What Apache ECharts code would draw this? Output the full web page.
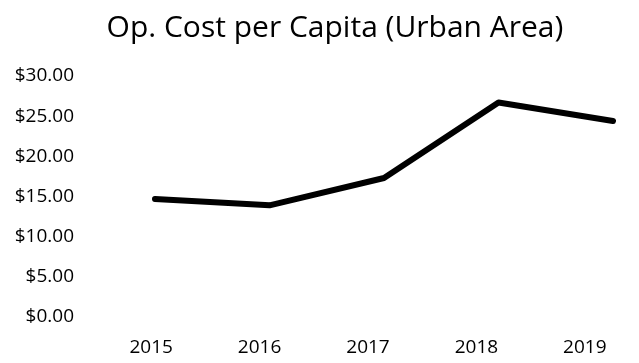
<!DOCTYPE html>
<html>
<head>
<meta charset="utf-8">
<script src="https://cdn.jsdelivr.net/npm/echarts@6/dist/echarts.min.js"></script>
<style>
  html, body { margin: 0; padding: 0; background: #fff; }
  #chart { width: 639px; height: 363px; }
</style>
</head>
<body>
<div id="chart"></div>
<script>
// Operating cost per capita, urban area, by year
const years = ['2015', '2016', '2017', '2018', '2019'];
const costPerCapita = [14.7, 13.9, 17.3, 26.7, 24.4];
const titleText = 'Op. Cost per Capita (Urban Area)';

const FONT = '"Open Sans", "Liberation Sans", sans-serif';

const chart = echarts.init(document.getElementById('chart'), null, { renderer: 'canvas' });

chart.setOption({
  animation: false,
  backgroundColor: '#ffffff',
  title: {
    text: titleText,
    left: 330,
    top: 8,
    textAlign: 'center',
    textStyle: { fontFamily: FONT, fontSize: 30, fontWeight: 'normal', color: '#000' }
  },
  grid: [
    // plot area for the line
    { left: 155, right: 26, top: 76, bottom: 46 },
    // strip carrying the year labels
    { left: 97, right: -14, top: 76, bottom: 46 }
  ],
  xAxis: [
    {
      gridIndex: 0,
      type: 'category',
      data: years,
      boundaryGap: false,
      axisLine: { show: false },
      axisTick: { show: false },
      axisLabel: { show: false },
      splitLine: { show: false }
    },
    {
      gridIndex: 1,
      type: 'category',
      data: years,
      boundaryGap: true,
      axisLine: { show: false },
      axisTick: { show: false },
      splitLine: { show: false },
      axisLabel: { margin: 21, fontFamily: FONT, fontSize: 19, color: '#000' }
    }
  ],
  yAxis: [
    {
      gridIndex: 0,
      type: 'value',
      min: 0,
      max: 30,
      interval: 5,
      axisLine: { show: false },
      axisTick: { show: false },
      splitLine: { show: false },
      axisLabel: {
        margin: 81,
        fontFamily: FONT,
        fontSize: 19,
        color: '#000',
        formatter: v => '$' + v.toFixed(2)
      }
    },
    {
      gridIndex: 1,
      type: 'value',
      show: false
    }
  ],
  series: [
    {
      type: 'line',
      xAxisIndex: 0,
      yAxisIndex: 0,
      data: costPerCapita,
      symbol: 'none',
      lineStyle: { color: '#000', width: 6, cap: 'round', join: 'round' }
    }
  ]
});
</script>
</body>
</html>
